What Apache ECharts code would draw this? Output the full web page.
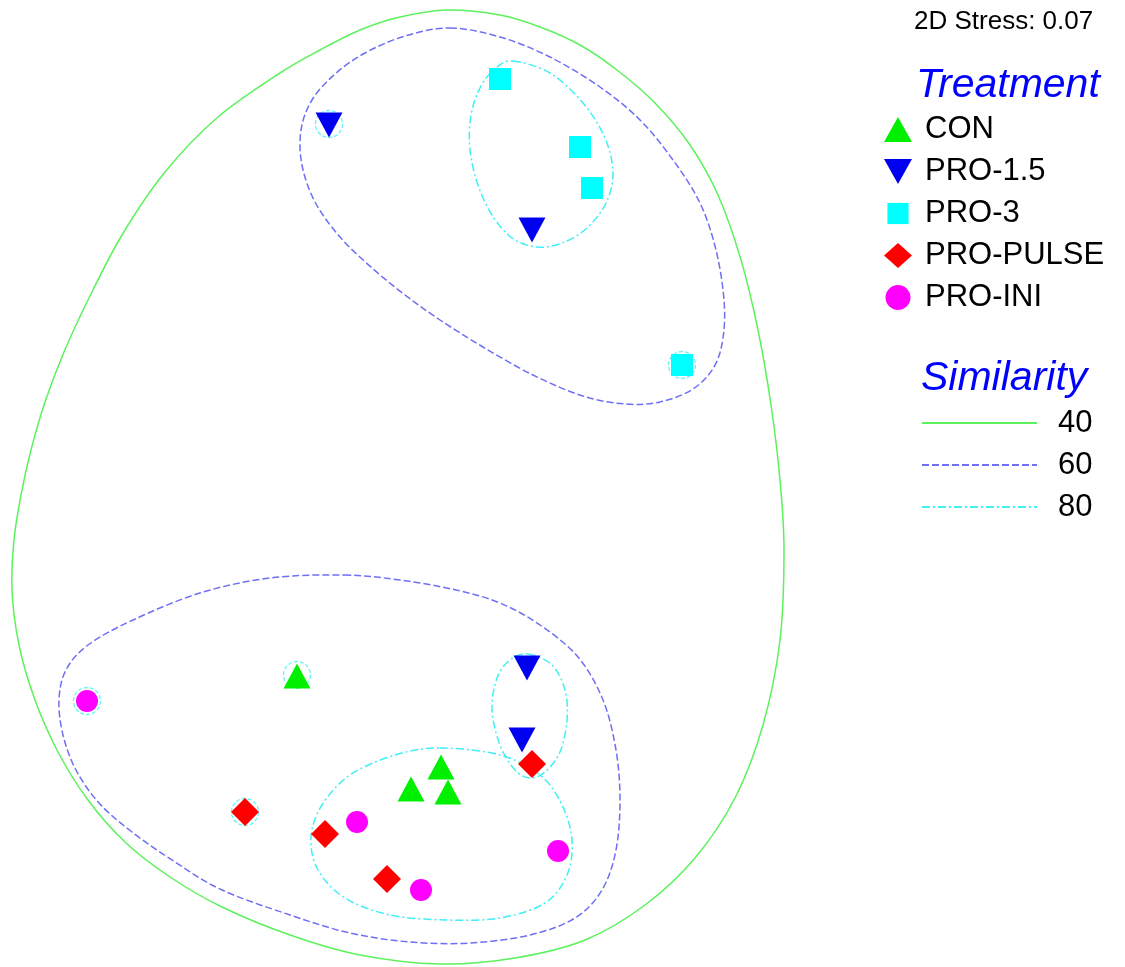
<!DOCTYPE html>
<html>
<head>
<meta charset="utf-8">
<script src="https://cdn.jsdelivr.net/npm/echarts@6/dist/echarts.min.js"></script>
<style>
  html, body { margin: 0; padding: 0; background: #fff; }
  #chart { width: 1125px; height: 967px; }
</style>
</head>
<body>
<div id="chart"></div>
<script>
// ordination positions (plot units, y grows downward)
var conPts = [[297, 676], [441, 767], [411, 789], [448, 792]];
var pro15Pts = [[329, 125], [532, 230], [527, 668], [522, 740]];
var pro3Pts = [[500, 79], [580, 147], [592, 188], [682, 365]];
var pulsePts = [[245, 812], [325, 834], [387, 879], [532, 764]];
var iniPts = [[87, 701], [357, 822], [421, 890], [558, 851]];

// single-sample 80% rings
var ring80 = [[329, 124], [682, 365], [87, 701], [297, 675], [245, 812]];

// similarity contours (points along each closed curve)
var contour40 = [[447, 10], [500, 15], [540, 27], [580, 45], [617, 70], [655, 103], [690, 145], [718, 195],
  [741, 260], [758, 330], [771, 405], [780, 480], [784, 550], [780, 640], [763, 725], [735, 798],
  [695, 858], [645, 905], [585, 940], [515, 958], [440, 964], [360, 955], [290, 935], [222, 907],
  [170, 877], [125, 842], [88, 800], [58, 752], [35, 700], [19, 645], [12, 590], [14, 540],
  [21, 495], [31, 450], [45, 402], [64, 352], [88, 300], [122, 235], [165, 172], [218, 117],
  [280, 73], [320, 50], [360, 30], [400, 17]];
var contour60a = [[450, 28], [500, 37], [550, 57], [600, 87], [640, 120], [673, 160], [700, 203], [716, 250],
  [724, 300], [723, 338], [714, 367], [693, 389], [660, 402], [625, 404], [583, 396], [533, 375],
  [483, 347], [440, 320], [405, 295], [372, 268], [340, 237], [315, 202], [302, 165], [301, 130],
  [312, 100], [335, 74], [365, 53], [405, 36]];
var contour60b = [[344, 575], [400, 580], [456, 590], [500, 603], [540, 625], [578, 657], [603, 700], [616, 750],
  [620, 800], [616, 850], [602, 890], [575, 918], [530, 935], [470, 943], [410, 942], [350, 933],
  [290, 915], [222, 890], [175, 862], [132, 832], [99, 803], [76, 770], [63, 735], [59, 700],
  [66, 670], [88, 645], [133, 620], [200, 593], [270, 578]];
var contour80a = [[513, 61], [550, 73], [583, 103], [605, 138], [613, 173], [606, 203], [587, 228], [562, 243],
  [537, 247], [512, 238], [492, 215], [478, 185], [470, 150], [471, 115], [481, 86], [496, 68]];
var contour80b = [[440, 748], [500, 755], [540, 775], [562, 805], [572, 840], [567, 875], [545, 903], [500, 918],
  [447, 920], [390, 915], [345, 898], [318, 870], [311, 837], [322, 805], [350, 775], [395, 755]];
var contour80c = [[528, 654], [552, 665], [565, 690], [567, 720], [560, 752], [545, 772], [530, 778], [515, 770],
  [500, 745], [492, 710], [497, 678], [510, 660]];

var simLevels = ['40', '60', '80'];

var C40 = '#5cf25c', C60 = '#6f6ff5', C80 = '#3ff0f5';
var DASH60 = [7, 3], DASH80 = [8, 3, 2, 3];
var FONT = 'Liberation Sans, Arial, sans-serif';

// closed curve through the contour points (Catmull-Rom as cubic bezier)
function closedPath(p) {
  var n = p.length, d = 'M' + p[0][0] + ',' + p[0][1];
  for (var i = 0; i < n; i++) {
    var p0 = p[(i - 1 + n) % n], p1 = p[i], p2 = p[(i + 1) % n], p3 = p[(i + 2) % n];
    d += 'C' + (p1[0] + (p2[0] - p0[0]) / 6) + ',' + (p1[1] + (p2[1] - p0[1]) / 6) + ' '
      + (p2[0] - (p3[0] - p1[0]) / 6) + ',' + (p2[1] - (p3[1] - p1[1]) / 6) + ' '
      + p2[0] + ',' + p2[1];
  }
  return d + 'Z';
}

function contour(pts, color, dash) {
  return {
    type: 'custom',
    silent: true,
    z: 1,
    data: pts,
    renderItem: function (params, api) {
      if (params.dataIndex !== 0) return null;
      var p = pts.map(function (d) { return api.coord(d); });
      return {
        type: 'path',
        shape: { pathData: closedPath(p) },
        style: { fill: 'none', stroke: color, lineWidth: 1.5, lineDash: dash }
      };
    }
  };
}

function pts(name, data, symbol, size, color, rot) {
  return {
    name: name, type: 'scatter', z: 5, data: data,
    symbol: symbol, symbolSize: size, symbolRotate: rot || 0,
    itemStyle: { color: color, opacity: 1 }
  };
}

var chart = echarts.init(document.getElementById('chart'));
var option = {
  animation: false,
  backgroundColor: '#fff',
  grid: { left: 0, right: 0, top: 0, bottom: 0 },
  xAxis: { type: 'value', min: 0, max: 1125, show: false },
  yAxis: { type: 'value', min: 0, max: 967, inverse: true, show: false },
  title: [
    { text: '2D Stress: 0.07', left: 909, top: 4,
      textStyle: { fontFamily: FONT, fontSize: 26, fontWeight: 'normal', color: '#000' } },
    { text: 'Treatment', left: 911, top: 60,
      textStyle: { fontFamily: FONT, fontSize: 41, fontStyle: 'italic', fontWeight: 'normal', color: '#0000ff' } },
    { text: 'Similarity', left: 916, top: 353,
      textStyle: { fontFamily: FONT, fontSize: 41, fontStyle: 'italic', fontWeight: 'normal', color: '#0000ff' } }
  ],
  legend: {
    orient: 'vertical', left: 879, top: 109,
    itemWidth: 28, itemHeight: 25, itemGap: 11,
    selectedMode: false,
    textStyle: { fontFamily: FONT, fontSize: 31, color: '#000', padding: [0, 0, 0, 8] },
    data: [
      { name: 'CON', icon: 'triangle' },
      { name: 'PRO-1.5', icon: 'path://M0,0L28,0L14,25Z' },
      { name: 'PRO-3', icon: 'path://M0,0L0,0M2,2L24,2L24,24L2,24ZM26,26L26,26' },
      { name: 'PRO-PULSE', icon: 'diamond' },
      { name: 'PRO-INI', icon: 'circle' }
    ]
  },
  graphic: simLevels.map(function (lv, i) {
    var col = [C40, C60, C80][i];
    var dash = [null, DASH60, DASH80][i];
    var y = 423 + i * 42;
    return {
      type: 'group',
      children: [
        { type: 'line', shape: { x1: 922, y1: y, x2: 1037, y2: y },
          style: { stroke: col, lineWidth: 2, lineDash: dash } },
        { type: 'text', x: 1058, y: y, style: { text: lv, font: '31px ' + FONT, fill: '#000', textVerticalAlign: 'middle' } }
      ]
    };
  }),
  series: [
    contour(contour40, C40, null),
    contour(contour60a, C60, DASH60),
    contour(contour60b, C60, DASH60),
    contour(contour80a, C80, DASH80),
    contour(contour80b, C80, DASH80),
    contour(contour80c, C80, DASH80),
    {
      type: 'scatter', silent: true, z: 2, data: ring80,
      symbol: 'circle', symbolSize: 27,
      itemStyle: { color: 'none', borderColor: C80, borderWidth: 1.3, borderType: [4, 2] }
    },
    pts('CON', conPts, 'triangle', [27, 25], '#00f000'),
    pts('PRO-1.5', pro15Pts, 'triangle', [27, 25], '#0000f0', 180),
    pts('PRO-3', pro3Pts, 'rect', 22, '#00ffff'),
    pts('PRO-PULSE', pulsePts, 'diamond', [28, 28], '#ff0000'),
    pts('PRO-INI', iniPts, 'circle', 22, '#ff00ff')
  ]
};
chart.setOption(option);
</script>
</body>
</html>
